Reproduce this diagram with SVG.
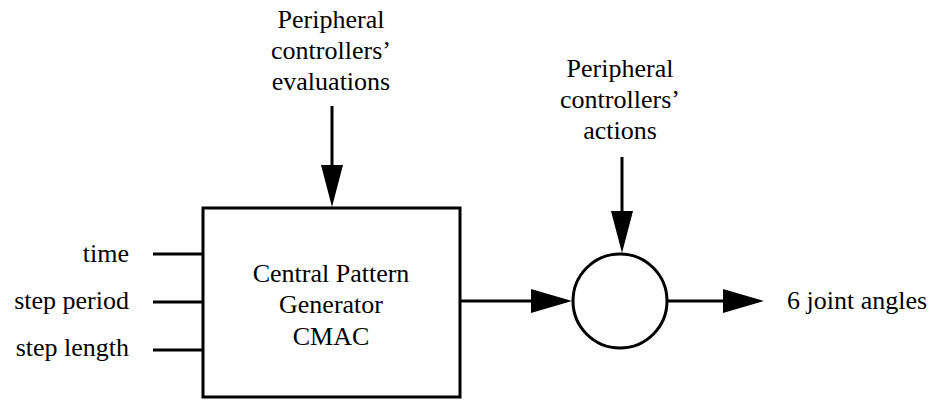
<svg xmlns="http://www.w3.org/2000/svg" width="934" height="400" viewBox="0 0 934 400">
<style>
text{font-family:'Liberation Serif','Times New Roman','DejaVu Serif',serif;font-size:26px;fill:#000}
.c{text-anchor:middle}
.r{text-anchor:end}
.ln{stroke:#000;stroke-width:3;fill:none}
.ah{fill:#000;stroke:none}
</style>
<rect width="934" height="400" fill="#fff"/>
<g id="cpg">
<rect x="203" y="208" width="257" height="189" class="ln"/>
<text class="c" x="331" y="282" font-family="Liberation Serif, serif">Central Pattern</text>
<text class="c" x="331" y="313">Generator</text>
<text class="c" x="331" y="345">CMAC</text>
</g>
<g id="sum">
<circle cx="620" cy="301" r="47" class="ln"/>
</g>
<g id="labels">
<text class="r" x="129" y="262">time</text>
<text class="r" x="129" y="309">step period</text>
<text class="r" x="129" y="356">step length</text>
<text class="c" x="331" y="28">Peripheral</text>
<text class="c" x="331" y="59">controllers’</text>
<text class="c" x="331" y="90">evaluations</text>
<text class="c" x="620" y="77">Peripheral</text>
<text class="c" x="620" y="108">controllers’</text>
<text class="c" x="620" y="139">actions</text>
<text x="787" y="309">6 joint angles</text>
</g>
<g id="connectors">
<line x1="153" y1="254" x2="203" y2="254" class="ln"/>
<line x1="153" y1="302" x2="203" y2="302" class="ln"/>
<line x1="153" y1="350" x2="203" y2="350" class="ln"/>
<line x1="332" y1="106" x2="332" y2="170" class="ln"/>
<polygon class="ah" points="321,165 343,165 332,207"/>
<line x1="622" y1="157" x2="622" y2="215" class="ln"/>
<polygon class="ah" points="611,211 633,211 622,253"/>
<line x1="460" y1="301" x2="535" y2="301" class="ln"/>
<polygon class="ah" points="531,289 531,313 572,301"/>
<line x1="668" y1="301" x2="727" y2="301" class="ln"/>
<polygon class="ah" points="723,289 723,313 764,301"/>
</g>
</svg>
